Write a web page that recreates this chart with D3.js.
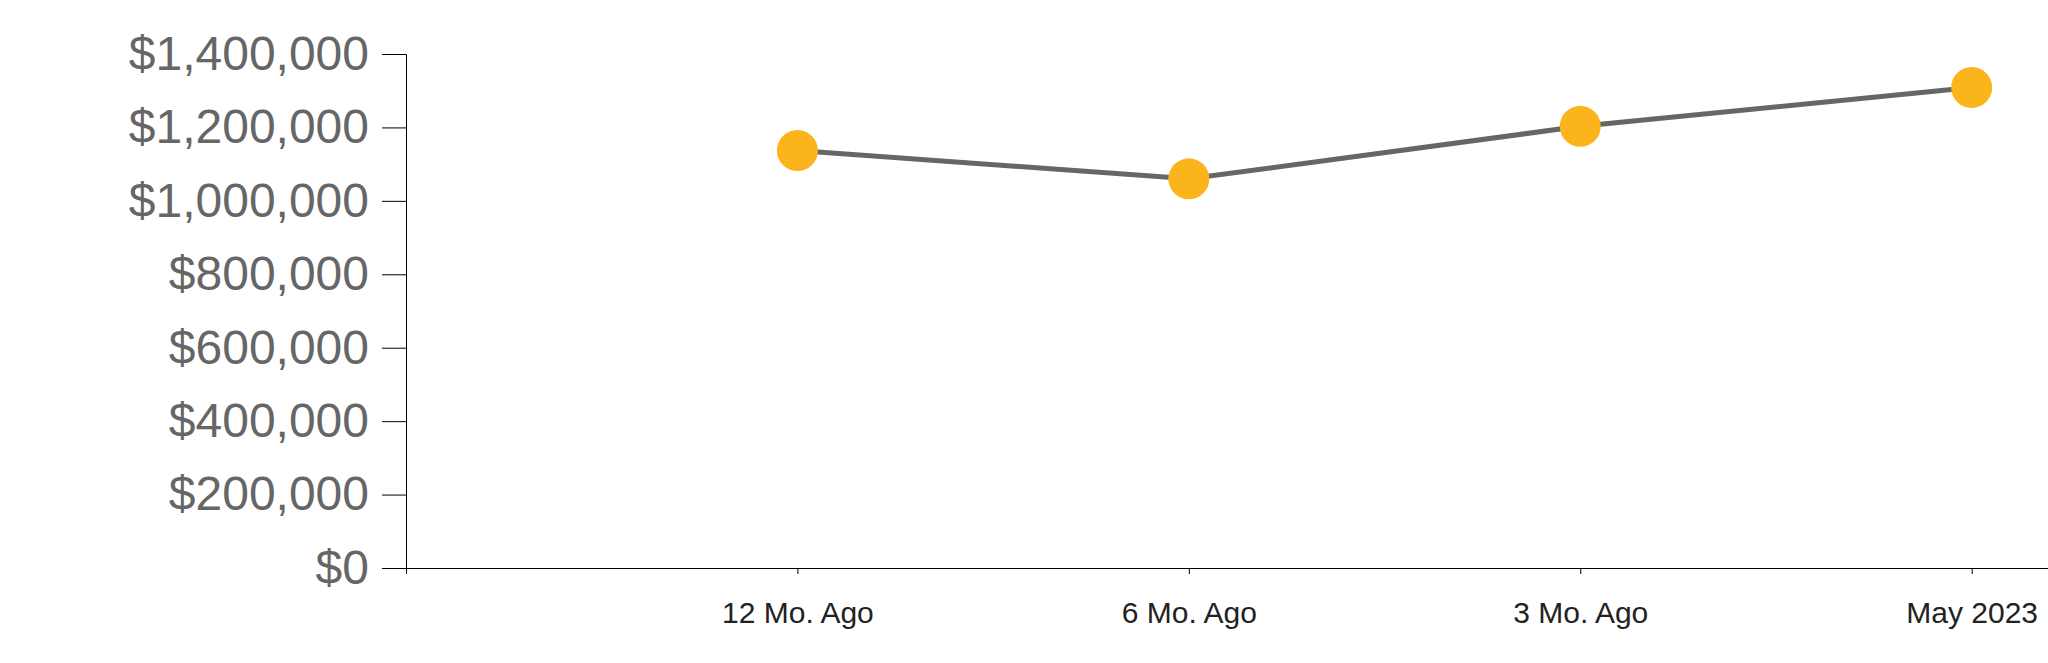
<!DOCTYPE html>
<html>
<head>
<meta charset="utf-8">
<script src="https://cdn.jsdelivr.net/npm/d3@7"></script>
<style>
  body { margin: 0; background: #fff; }
  svg { display: block; font-family: "Liberation Sans", Arial, sans-serif; }
  .y-axis text { fill: #666; font-size: 48px; }
  .x-axis text { fill: #222; font-size: 30px; }
  .domain, .tick line { stroke: #000; }
</style>
</head>
<body>
<svg id="chart" width="2048" height="663"></svg>
<script>
// data
var months = ["12 Mo. Ago", "6 Mo. Ago", "3 Mo. Ago", "May 2023"];
var prices = [1137000, 1060000, 1203000, 1309000];
var yTicks = [0, 200000, 400000, 600000, 800000, 1000000, 1200000, 1400000];

var svg = d3.select("#chart"),
    width = +svg.attr("width"),
    height = +svg.attr("height");

var margin = {top: 54, left: 406, bottom: 95, right: 0},
    w = width - margin.left - margin.right,
    h = height - margin.top - margin.bottom;

var g = svg.append("g")
    .attr("transform", "translate(" + margin.left + "," + margin.top + ")");

// index scale: slot 0 is left empty, points sit on 1..4
var x = d3.scaleLinear().domain([0, 4.195]).range([0, w]);
var y = d3.scaleLinear().domain([0, 1400000]).range([h, 0]);

var fmt = d3.format("$,");

g.append("g")
    .attr("class", "y-axis")
    .call(d3.axisLeft(y).tickValues(yTicks).tickFormat(fmt).tickSize(24).tickPadding(13));

g.append("g")
    .attr("class", "x-axis")
    .attr("transform", "translate(0," + h + ")")
    .call(d3.axisBottom(x)
        .tickValues(d3.range(1, months.length + 1))
        .tickFormat(function(d) { return months[d - 1]; })
        .tickSize(6)
        .tickPadding(28));

var pts = prices.map(function(v, i) { return {i: i + 1, v: v}; });

var line = d3.line()
    .x(function(d) { return x(d.i); })
    .y(function(d) { return y(d.v); });

g.append("path")
    .datum(pts)
    .attr("d", line)
    .attr("fill", "none")
    .attr("stroke", "#666")
    .attr("stroke-width", 5);

g.selectAll(".dot")
    .data(pts)
    .enter()
    .append("circle")
    .attr("class", "dot")
    .attr("cx", function(d) { return x(d.i); })
    .attr("cy", function(d) { return y(d.v); })
    .attr("r", 20.5)
    .style("fill", "#fbb41c");
</script>
</body>
</html>
